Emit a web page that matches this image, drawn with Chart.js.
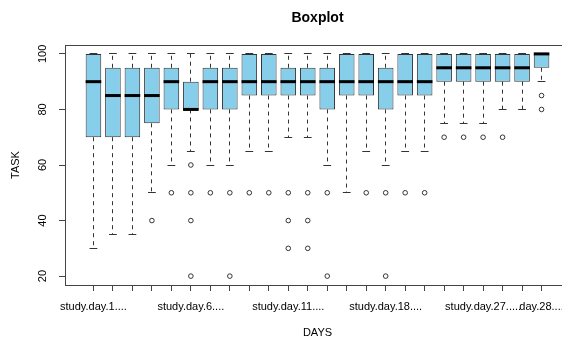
<!DOCTYPE html>
<html><head><meta charset="utf-8">
<script src="https://cdn.jsdelivr.net/npm/chart.js@4.4.1/dist/chart.umd.min.js"></script>
<style>html,body{margin:0;padding:0;overflow:hidden;background:#fff;} #wrap{width:580px;height:340px;}</style>
</head><body><div id="wrap"><canvas id="c" width="580" height="340"></canvas></div>
<script>
// ---- data ----
const tickLabels = ["study.day.1....", "", "", "", "", "study.day.6....", "", "", "", "",
  "study.day.11....", "", "", "", "", "study.day.18....", "", "", "", "",
  "study.day.27.....", "", "", "day.28...."];
const whiskerLow  = [30, 35, 35, 50, 60, 65, 60, 60, 65, 65, 70, 70, 60, 50, 65, 60, 65, 65, 75, 75, 75, 80, 80, 90];
const q1          = [70, 70, 70, 75, 80, 80, 80, 80, 85, 85, 85, 85, 80, 85, 85, 80, 85, 85, 90, 90, 90, 90, 90, 95];
const median      = [90, 85, 85, 85, 90, 80, 90, 90, 90, 90, 90, 90, 90, 90, 90, 90, 90, 90, 95, 95, 95, 95, 95, 100];
const q3          = [100, 95, 95, 95, 95, 90, 95, 95, 100, 100, 95, 95, 95, 100, 100, 95, 100, 100, 100, 100, 100, 100, 100, 100];
const whiskerHigh = [100, 100, 100, 100, 100, 100, 100, 100, 100, 100, 100, 100, 100, 100, 100, 100, 100, 100, 100, 100, 100, 100, 100, 100];
const outliers = [[], [], [], [40], [50], [60, 50, 40, 20], [50], [50, 20], [50], [50],
  [50, 40, 30], [50, 40, 30], [50, 20], [], [50], [50, 20], [50], [50], [70], [70], [70], [70], [], [85, 80]];
const yTicks = [20, 40, 60, 80, 100];

const positions = tickLabels.map((_, i) => i + 1);
const boxData = positions.map((x, i) => ({x: x, y: [q1[i], q3[i]]}));
const outlierData = [];
outliers.forEach((arr, i) => arr.forEach(v => outlierData.push({x: positions[i], y: v})));

Chart.defaults.font.family = "'Liberation Sans', Arial, sans-serif";

function align(p) { return Math.round(p - 0.5) + 0.5; }

const boxParts = {
  id: 'boxParts',
  afterDatasetsDraw(chart) {
    const {ctx, scales: {y}} = chart;
    const meta = chart.getDatasetMeta(0);
    ctx.save();
    meta.data.forEach((bar, i) => {
      const cx = align(bar.x);
      const w = bar.width;
      const cap = w / 4;
      const pLow = y.getPixelForValue(whiskerLow[i]);
      const pHigh = y.getPixelForValue(whiskerHigh[i]);
      const pQ1 = y.getPixelForValue(q1[i]);
      const pQ3 = y.getPixelForValue(q3[i]);
      const pMed = y.getPixelForValue(median[i]);
      ctx.strokeStyle = '#333';
      ctx.lineWidth = 1;
      ctx.setLineDash([4, 4]);
      ctx.beginPath();
      if (whiskerHigh[i] > q3[i]) { ctx.moveTo(cx, pQ3); ctx.lineTo(cx, pHigh); }
      if (whiskerLow[i] < q1[i]) { ctx.moveTo(cx, pQ1); ctx.lineTo(cx, pLow); }
      ctx.stroke();
      ctx.setLineDash([]);
      ctx.beginPath();
      ctx.moveTo(bar.x - cap, align(pHigh)); ctx.lineTo(bar.x + cap, align(pHigh));
      ctx.moveTo(bar.x - cap, align(pLow)); ctx.lineTo(bar.x + cap, align(pLow));
      ctx.stroke();
      ctx.strokeStyle = '#000';
      ctx.lineWidth = 3;
      ctx.lineCap = 'butt';
      ctx.beginPath();
      ctx.moveTo(bar.x - w / 2, pMed); ctx.lineTo(bar.x + w / 2, pMed);
      ctx.stroke();
    });
    const a = chart.chartArea;
    ctx.strokeStyle = '#444';
    ctx.lineWidth = 1;
    ctx.beginPath();
    ctx.moveTo(a.left, align(a.top)); ctx.lineTo(a.right, align(a.top));
    ctx.moveTo(align(a.right), a.top); ctx.lineTo(align(a.right), a.bottom);
    ctx.stroke();
    ctx.restore();
  }
};

new Chart(document.getElementById('c'), {
  type: 'bar',
  data: {
    datasets: [
      {
        type: 'bar',
        label: 'box',
        data: boxData,
        backgroundColor: '#87CEEB',
        borderColor: '#333',
        borderWidth: 1,
        borderSkipped: false,
        barPercentage: 0.8,
        categoryPercentage: 1.0
      },
      {
        type: 'scatter',
        label: 'outliers',
        data: outlierData,
        showLine: false,
        pointStyle: 'circle',
        pointRadius: 2.3,
        pointBorderWidth: 1,
        pointBackgroundColor: 'rgba(0,0,0,0)',
        pointBorderColor: '#333'
      }
    ]
  },
  options: {
    responsive: false,
    animation: false,
    devicePixelRatio: 1,
    layout: {padding: {left: 0, right: 10, top: 0, bottom: 0}},
    plugins: {
      legend: {display: false},
      tooltip: {enabled: false},
      title: {
        display: true, text: 'Boxplot', color: '#000', fullSize: false,
        font: {size: 14, weight: 'bold'},
        padding: {top: 9.6, bottom: 18.6}
      }
    },
    scales: {
      x: {
        type: 'linear', min: -0.46, max: 25.46, offset: false,
        afterBuildTicks: s => { s.ticks = positions.map(v => ({value: v})); },
        afterFit: s => { s.height = 55; },
        grid: {display: true, drawOnChartArea: false, drawTicks: true, tickLength: 6, color: '#444', offset: false},
        border: {display: true, color: '#444'},
        ticks: {
          autoSkip: false, maxRotation: 0, minRotation: 0, padding: 9, color: '#000',
          font: {size: 11},
          callback: (v) => tickLabels[v - 1] || ''
        },
        title: {display: true, text: 'DAYS', color: '#000', font: {size: 11}, padding: {top: 0, bottom: 0}}
      },
      y: {
        min: 16.8, max: 103.2,
        afterBuildTicks: s => { s.ticks = yTicks.map(v => ({value: v})); },
        afterFit: s => { s.width = 65; },
        grid: {display: true, drawOnChartArea: false, drawTicks: true, tickLength: 6, color: '#444'},
        border: {display: true, color: '#444'},
        ticks: {minRotation: 90, maxRotation: 90, crossAlign: 'center', padding: 7, color: '#000', font: {size: 11}},
        title: {display: true, text: 'TASK', color: '#000', font: {size: 11}, padding: {top: 9.4, bottom: 0}}
      }
    }
  },
  plugins: [boxParts]
});
</script>
</body></html>
